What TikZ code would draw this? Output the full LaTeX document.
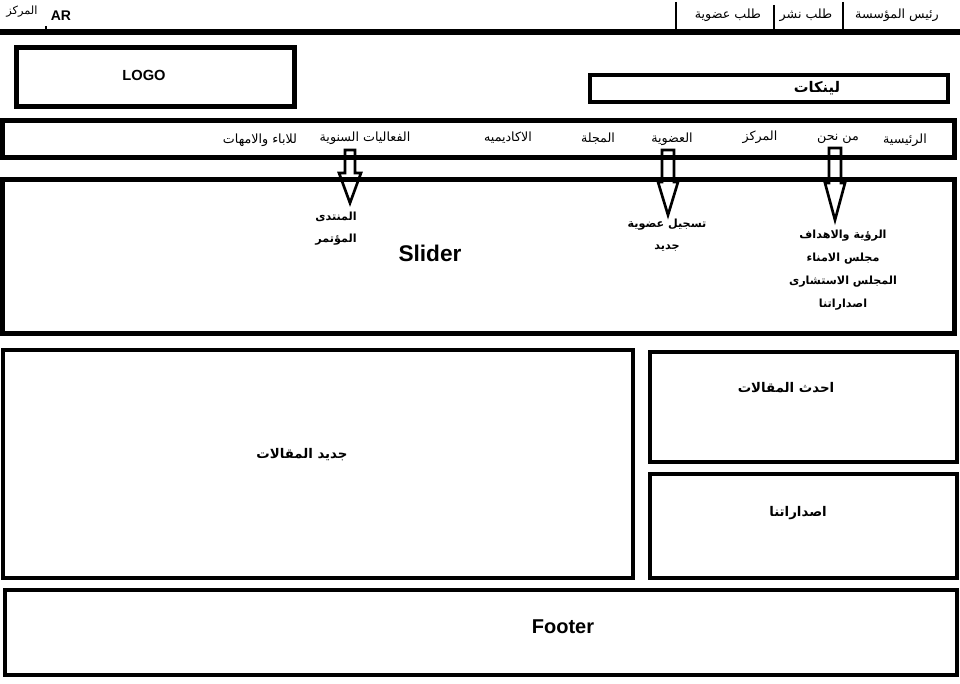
\documentclass[tikz,border=0pt]{standalone}
\usepackage{fontspec}
\setmainfont{Liberation Sans}
\newfontfamily\arabicfont[Script=Arabic]{DejaVu Sans}
\TeXXeTstate=1
\usetikzlibrary{positioning}
\newcommand{\artxt}[1]{{\arabicfont\beginR #1\endR}}
% hollow block arrow hanging from a coordinate
\newcommand{\menuarrow}[5]{\draw[blockarrow] (#1) ++(-#2,0) -- ++(0,#3) -- ++(#2-#4,0) -- ++(#4,#5) -- ++(#4,-#5) -- ++(#2-#4,0) -- ++(0,-#3) -- cycle;}
\begin{document}
\begin{tikzpicture}[x=0.75pt,y=-0.75pt,
    panel/.style={draw,line width=#1},
    panel/.default=3.75pt,
    toptxt/.style={inner sep=1pt,font=\fontsize{9.5}{11}\selectfont},
    navtxt/.style={inner sep=1pt,font=\fontsize{9.5}{11}\selectfont},
    subtxt/.style={inner sep=1pt,align=center,font=\fontsize{8.4}{16.5}\selectfont\bfseries},
    boxtxt/.style={inner sep=1pt,font=\fontsize{10}{12}\selectfont\bfseries},
    blockarrow/.style={line width=2pt,line join=miter}]
  \useasboundingbox (0,0) rectangle (960,684);
  % top strip
  \draw [line width=4pt] (0,32) -- (960,32);
  \draw [line width=2pt] (46,26) -- (46,31);
  \draw [line width=2.2pt] (676,2) -- (676,31);
  \draw [line width=2.2pt] (774,5) -- (774,31);
  \draw [line width=2.2pt] (843,2) -- (843,31);
  \node [toptxt,font=\fontsize{8.5}{10}\selectfont] (centre) at (22,12) {\artxt{المركز}};
  \node [inner sep=1pt,font=\fontsize{10.5}{12}\selectfont\bfseries] (lang) at (61,16) {AR};
  \node [toptxt] (joinreq) at (728,15) {\artxt{طلب عضوية}};
  \node [toptxt] (pubreq) at (806,15) {\artxt{طلب نشر}};
  \node [toptxt] (chair) at (897,15) {\artxt{رئيس المؤسسة}};
  % header
  \draw [panel] (16.5,47.5) rectangle (294.5,107);
  \node [inner sep=1pt,font=\fontsize{11}{13}\selectfont\bfseries] (logo) at (144,75) {LOGO};
  \draw [panel=2.6pt] (590,75) rectangle (948,102);
  \node [boxtxt,font=\fontsize{11}{13}\selectfont\bfseries] (links) at (817,88) {\artxt{لينكات}};
  % menu
  \draw [panel] (2.5,120.5) rectangle (954.5,157.5);
  \node [navtxt] (home) at (905,140) {\artxt{الرئيسية}};
  \node [navtxt] (about) at (838,139) {\artxt{من نحن}};
  \node [navtxt] (center) at (760,137) {\artxt{المركز}};
  \node [navtxt] (member) at (672,139) {\artxt{العضوية}};
  \node [navtxt] (journal) at (598,139) {\artxt{المجلة}};
  \node [navtxt] (academy) at (508,138) {\artxt{الاكاديميه}};
  \node [navtxt] (events) at (365,138) {\artxt{الفعاليات السنوية}};
  \node [navtxt] (parents) at (260,140) {\artxt{للاباء والامهات}};
  % slider
  \draw [panel] (2.5,179.5) rectangle (954.5,333);
  \node [inner sep=1pt,font=\fontsize{17}{20}\selectfont\bfseries] (slider) at (430,253) {Slider};
  \coordinate (a1) at (350,150);
  \coordinate (a2) at (668,150);
  \coordinate (a3) at (835,148);
  \menuarrow{a1}{5}{23}{11}{30}
  \menuarrow{a2}{6}{32}{10}{33}
  \menuarrow{a3}{6}{35}{10}{37}
  \node [subtxt] (eventsub) at (336,229) {\artxt{المنتدى}\\\artxt{المؤتمر}};
  \node [subtxt] (membersub) at (667,235) {\artxt{تسجيل عضوية}\\\artxt{جديد}};
  \node [subtxt,font=\fontsize{8.4}{17.2}\selectfont\bfseries] (aboutsub) at (843,270) {\artxt{الرؤية والاهداف}\\\artxt{مجلس الامناء}\\\artxt{المجلس الاستشارى}\\\artxt{اصداراتنا}};
  % content
  \draw [panel=3pt] (3,350) rectangle (633,578);
  \node [boxtxt] (newart) at (302,455) {\artxt{جديد المقالات}};
  \draw [panel=3pt] (650,352) rectangle (957,462);
  \node [boxtxt] (latest) at (786,388) {\artxt{احدث المقالات}};
  \draw [panel=3pt] (650,474) rectangle (957,578);
  \node [boxtxt] (pubs) at (798,513) {\artxt{اصداراتنا}};
  \draw [panel=3pt] (5,590) rectangle (957,675);
  \node [inner sep=1pt,font=\fontsize{15}{18}\selectfont\bfseries] (footer) at (563,627) {Footer};
\end{tikzpicture}
\end{document}
